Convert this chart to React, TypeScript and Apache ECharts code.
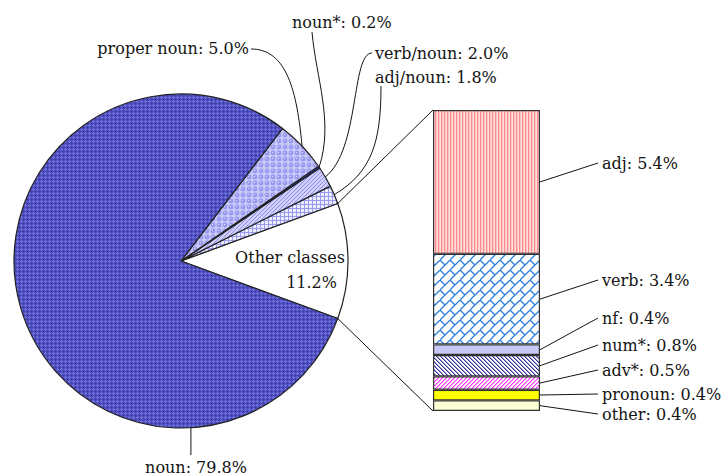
import { useEffect, useRef } from 'react';
import * as echarts from 'echarts';

// ---- data ----
const pieNames = ['Other classes', 'adj/noun', 'verb/noun', 'noun*', 'proper noun', 'noun'];
const pieValues = [11.2, 1.8, 2.0, 0.2, 5.0, 79.8];
const barCategory = ['Other classes'];
const barNames = ['adj', 'verb', 'nf', 'num*', 'adv*', 'pronoun', 'other'];
const barValues = [5.4, 3.4, 0.4, 0.8, 0.5, 0.4, 0.4];

// ---- layout ----
const W = 725, H = 475;
const CX = 181, CY = 261, R = 167;
const G_LEFT = 433, G_TOP = 110, G_W = 107, G_H = 301;
const FONT = '16px "DejaVu Serif"';
const INK = '#141414';

type Pat = { image: HTMLCanvasElement; repeat: string; imageWidth: number; imageHeight: number };
function pat(w: number, h: number, draw: (g: CanvasRenderingContext2D) => void): Pat {
  const c = document.createElement('canvas');
  c.width = w; c.height = h;
  const g = c.getContext('2d')!;
  draw(g);
  return { image: c, repeat: 'repeat', imageWidth: w, imageHeight: h };
}
function px(g: CanvasRenderingContext2D, color: string, pts: number[][]) {
  g.fillStyle = color;
  pts.forEach(([x, y]) => g.fillRect(x, y, 1, 1));
}

function makePieFills(): any[] {
  const other = '#ffffff';
  const adjNoun = pat(4, 4, g => {
    g.fillStyle = '#ececff'; g.fillRect(0, 0, 4, 4);
    g.fillStyle = '#9a9af0'; g.fillRect(0, 0, 4, 1); g.fillRect(0, 0, 1, 4);
  });
  const verbNoun = pat(4, 4, g => {
    g.fillStyle = '#cfcff9'; g.fillRect(0, 0, 4, 4);
    px(g, '#8e8eea', [[0, 0], [2, 2], [1, 3], [3, 1]]);
  });
  const nounStar = '#3434a4';
  const proper = pat(6, 6, g => {
    g.fillStyle = '#c8c8f8'; g.fillRect(0, 0, 6, 6);
    g.fillStyle = '#9898ee'; g.beginPath(); g.arc(3, 3, 2.4, 0, Math.PI * 2); g.fill();
    px(g, '#e2e2ff', [[2, 2]]);
  });
  const noun = pat(4, 4, g => {
    g.fillStyle = '#4a4aba'; g.fillRect(0, 0, 4, 4);
    px(g, '#7070dc', [[1, 0], [0, 1], [1, 1], [2, 1], [1, 2]]);
    px(g, '#3a3aa0', [[3, 3]]);
  });
  return [other, adjNoun, verbNoun, nounStar, proper, noun];
}

function makeBarFills(): any[] {
  const adj = pat(3, 1, g => {
    px(g, '#ff8a8a', [[0, 0]]); px(g, '#ffc6c6', [[1, 0]]); px(g, '#ffdede', [[2, 0]]);
  });
  const verb = pat(10, 10, g => {
    g.fillStyle = '#ffffff'; g.fillRect(0, 0, 10, 10);
    g.strokeStyle = '#2f80dc'; g.lineWidth = 1.3;
    g.beginPath(); g.moveTo(-1, 11); g.lineTo(11, -1); g.stroke();
    g.beginPath(); g.moveTo(-1, 9); g.lineTo(1, 11); g.stroke();
    g.beginPath(); g.moveTo(9, -1); g.lineTo(11, 1); g.stroke();
    g.beginPath(); g.moveTo(-1, -1); g.lineTo(5, 5); g.stroke();
  });
  const nf = '#c9c9f7';
  const num = pat(4, 4, g => {
    g.fillStyle = '#ffffff'; g.fillRect(0, 0, 4, 4);
    px(g, '#34349c', [[0, 0], [1, 1], [2, 2], [3, 3]]);
    px(g, '#9a9ad6', [[1, 0], [2, 1], [3, 2], [0, 3]]);
  });
  const adv = pat(4, 4, g => {
    g.fillStyle = '#ffffff'; g.fillRect(0, 0, 4, 4);
    px(g, '#ff30ff', [[3, 0], [2, 1], [1, 2], [0, 3]]);
    px(g, '#ff9cff', [[0, 0], [3, 1], [2, 2], [1, 3]]);
  });
  const pronoun = '#ffff00';
  const other = '#ffffd6';
  return [adj, verb, nf, num, adv, pronoun, other];
}

// label placement (annotation layout)
const pieLabelLayout: Record<string, any> = {
  'proper noun': { x: 249, y: 48, align: 'right', s: [251, 49], c1: [287, 49], c2: [297, 92] },
  'noun*': { x: 292, y: 22, align: 'left', s: [312, 32], c1: [316, 78], c2: [334, 122] },
  'verb/noun': { x: 375, y: 53, align: 'left', s: [372, 53], c1: [351, 53], c2: [360, 150] },
  'adj/noun': { x: 375, y: 77, align: 'left', s: [381, 86], c1: [381, 142], c2: [372, 172] },
};
const barLabelY = [163, 280, 318, 345, 370, 394, 414];
const BAR_LABEL_X = 602;

function txt(x: number, y: number, text: string, align: string) {
  return {
    type: 'text', x, y, z: 100, silent: true,
    style: { text, font: FONT, fill: INK, align, verticalAlign: 'middle', textAlign: align, textVerticalAlign: 'middle' },
  };
}
function seg(x1: number, y1: number, x2: number, y2: number) {
  return { type: 'line', z: 100, silent: true, shape: { x1, y1, x2, y2 }, style: { stroke: INK, lineWidth: 1 } };
}

export default function App() {
  const ref = useRef<HTMLDivElement>(null);
  useEffect(() => {
    const chart = echarts.init(ref.current!, undefined, { renderer: 'svg' });
    const pieSum = pieValues.reduce((a, b) => a + b, 0);
    const barSum = barValues.reduce((a, b) => a + b, 0);
    const startAngle = -(pieValues[0] / pieSum) * 360 / 2;
    const pieFills = makePieFills();
    const barFills = makeBarFills();

    chart.setOption({
      animation: false,
      backgroundColor: '#ffffff',
      grid: { left: G_LEFT, top: G_TOP, width: G_W, height: G_H },
      xAxis: { type: 'category', data: barCategory, show: false },
      yAxis: { type: 'value', min: 0, max: barSum, inverse: true, show: false },
      series: [
        {
          type: 'pie',
          center: [CX, CY],
          radius: R,
          startAngle,
          clockwise: false,
          silent: true,
          avoidLabelOverlap: false,
          label: { show: false },
          labelLine: { show: false },
          emphasis: { disabled: true },
          itemStyle: { borderColor: '#222222', borderWidth: 1.2 },
          data: pieNames.map((n, i) => ({ name: n, value: pieValues[i], itemStyle: { color: pieFills[i] } })),
        },
        ...barNames.map((n, i) => ({
          type: 'bar',
          name: n,
          stack: 'other',
          barWidth: '100%',
          silent: true,
          emphasis: { disabled: true },
          itemStyle: { color: barFills[i], borderColor: '#333333', borderWidth: 1.2 },
          data: [barValues[i]],
        })),
      ],
    });

    // annotations computed from data & scales
    const graphics: any[] = [];
    const rad = (d: number) => (d * Math.PI) / 180;
    const edge = (deg: number) => [CX + R * Math.cos(rad(deg)), CY - R * Math.sin(rad(deg))];
    let cum = 0;
    pieNames.forEach((n, i) => {
      const mid = startAngle + ((cum + pieValues[i] / 2) / pieSum) * 360;
      cum += pieValues[i];
      const lab = `${n}: ${pieValues[i].toFixed(1)}%`;
      const L = pieLabelLayout[n];
      if (L) {
        const [ex, ey] = edge(mid);
        graphics.push({
          type: 'bezierCurve', z: 100, silent: true,
          shape: { x1: L.s[0], y1: L.s[1], cpx1: L.c1[0], cpy1: L.c1[1], cpx2: L.c2[0], cpy2: L.c2[1], x2: ex, y2: ey },
          style: { stroke: INK, lineWidth: 1, fill: 'none' },
        });
        graphics.push(txt(L.x, L.y, lab, L.align));
      }
    });
    // noun label (below pie)
    const [nx, ny] = edge(-86.6);
    graphics.push(seg(nx, ny, nx, 455));
    graphics.push(txt(196, 467, `${pieNames[5]}: ${pieValues[5].toFixed(1)}%`, 'center'));
    // Other classes label inside slice
    graphics.push(txt(290, 257, pieNames[0], 'center'));
    graphics.push(txt(337, 282, `${pieValues[0].toFixed(1)}%`, 'right'));

    // connectors pie -> bar
    const upper = edge(startAngle + (pieValues[0] / pieSum) * 360);
    const lower = edge(startAngle);
    const topPt = chart.convertToPixel({ gridIndex: 0 }, [0, 0]) as number[];
    const botPt = chart.convertToPixel({ gridIndex: 0 }, [0, barSum]) as number[];
    graphics.push(seg(upper[0], upper[1], G_LEFT, topPt[1]));
    graphics.push(seg(lower[0], lower[1], G_LEFT, botPt[1]));

    // bar labels
    let bc = 0;
    barNames.forEach((n, i) => {
      const mid = bc + barValues[i] / 2;
      bc += barValues[i];
      const p = chart.convertToPixel({ gridIndex: 0 }, [0, mid]) as number[];
      graphics.push(seg(G_LEFT + G_W, p[1], BAR_LABEL_X - 4, barLabelY[i]));
      graphics.push(txt(BAR_LABEL_X, barLabelY[i], `${n}: ${barValues[i].toFixed(1)}%`, 'left'));
    });

    chart.setOption({ graphic: graphics });
    return () => chart.dispose();
  }, []);
  return <div ref={ref} style={{ position: 'absolute', left: 0, top: 0, width: W, height: H }} />;
}
